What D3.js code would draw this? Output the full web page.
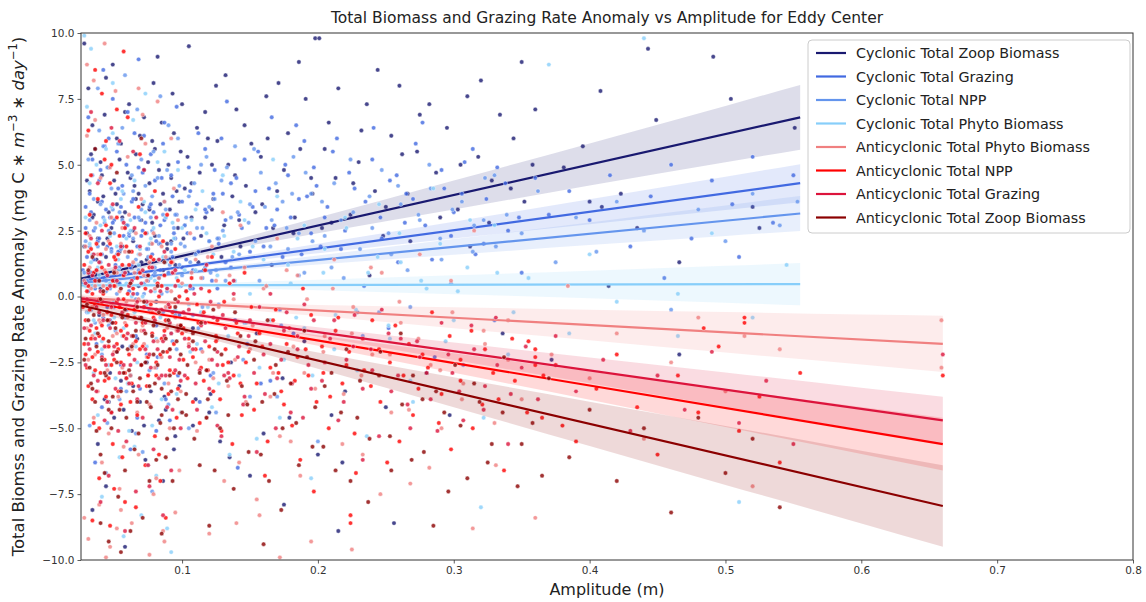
<html>
<head>
<meta charset="utf-8">
<script src="https://d3js.org/d3.v7.min.js"></script>
<title>Total Biomass and Grazing Rate Anomaly vs Amplitude</title>
<style type="text/css">
	body { margin: 0; background: #fff; }
	text { font-family: "DejaVu Sans", sans-serif; }
</style>
</head>
<body>
<div id="chart"></div>
<script>

// legend / series order
var seriesNames = [
	"Cyclonic Total Zoop Biomass", "Cyclonic Total Grazing", "Cyclonic Total NPP", "Cyclonic Total Phyto Biomass",
	"Anticyclonic Total Phyto Biomass", "Anticyclonic Total NPP", "Anticyclonic Total Grazing", "Anticyclonic Total Zoop Biomass"
];
var seriesColors = ["#191970", "#4169e1", "#6495ed", "#87cefa", "#f08080", "#ff0000", "#dc143c", "#8b0000"];

var xTicks = [0.1, 0.2, 0.3, 0.4, 0.5, 0.6, 0.7, 0.8];
var yTicks = [-10, -7.5, -5, -2.5, 0, 2.5, 5, 7.5, 10];

// regression fits
var fitXmin = 0.0256;
var fitXmax = [0.555, 0.555, 0.555, 0.555, 0.66, 0.66, 0.66, 0.66];
var fitStart = [0.68, 0.6, 0.52, 0.42, -0.05, -0.18, -0.08, -0.34];
var fitEnd = [6.8, 4.3, 3.15, 0.47, -1.8, -5.6, -4.7, -7.95];

// confidence band half widths at these x positions
var ciXcyc = [0.0256, 0.1, 0.2, 0.3, 0.4, 0.5, 0.555];
var ciXanti = [0.0256, 0.1, 0.2, 0.3, 0.4, 0.5, 0.6, 0.66];
var ciHalf = [
	[0.2, 0.12, 0.3, 0.55, 0.8, 1.07, 1.23],
	[0.12, 0.07, 0.18, 0.32, 0.47, 0.63, 0.72],
	[0.11, 0.07, 0.17, 0.3, 0.43, 0.58, 0.66],
	[0.13, 0.08, 0.2, 0.36, 0.52, 0.7, 0.8],
	[0.14, 0.09, 0.21, 0.4, 0.58, 0.77, 0.95, 1.07],
	[0.13, 0.08, 0.2, 0.37, 0.54, 0.72, 0.89, 1.0],
	[0.12, 0.07, 0.18, 0.33, 0.49, 0.65, 0.8, 0.9],
	[0.2, 0.12, 0.31, 0.57, 0.84, 1.12, 1.38, 1.55]
];

// scatter points [amplitude, anomaly]
var cycZoop = [
[0.028,9.6],[0.031,7.9],[0.033,5.4],[0.035,3.1],[0.037,1.4],[0.039,-0.7],[0.041,4.6],[0.043,6.9],[0.045,2.2],[0.047,-2.9],[0.049,8.8],[0.051,3.9],[0.053,0.5],[0.055,5.8],[0.057,-4.3],[0.059,2.7],[0.061,7.3],[0.063,1.1],[0.065,4.2],[0.067,-1.6],[0.069,6.1],[0.071,3.5],[0.073,-6.2],[0.075,5.1],[0.077,2.0],[0.079,8.1],[0.081,-0.2],[0.083,4.8],[0.085,6.6],[0.087,-3.8],[0.089,1.8],[0.091,3.3],[0.093,7.7],[0.095,-5.3],[0.097,2.6],[0.099,5.5],
[0.034,-8.1],[0.038,-5.6],[0.044,-7.2],[0.052,-2.1],[0.058,-9.5],[0.064,-3.4],[0.072,-4.9],[0.086,-7.0],[0.046,-4.0],[0.056,-1.9],
[0.102,4.1],[0.105,9.5],[0.108,-1.2],[0.111,6.4],[0.114,2.3],[0.117,7.0],[0.12,-4.4],[0.123,3.7],[0.126,5.9],[0.129,1.5],[0.132,8.4],[0.136,-2.5],[0.139,4.6],[0.142,2.9],[0.146,6.5],[0.15,-6.8],[0.154,3.2],[0.158,5.3],[0.162,7.6],[0.166,1.2],[0.17,4.0],[0.174,-3.1],[0.178,6.2],[0.182,2.4],[0.186,8.9],[0.19,-1.7],[0.195,4.5],[0.198,9.8],[0.201,9.8],
[0.205,5.6],[0.21,2.8],[0.215,7.9],[0.22,-3.6],[0.226,4.3],[0.232,6.3],[0.238,0.8],[0.244,8.6],[0.25,3.4],[0.256,-8.6],[0.262,5.4],[0.268,2.1],[0.275,6.9],[0.282,7.3],[0.29,3.0],[0.297,-4.5],[0.305,5.0],[0.312,1.9],[0.32,8.2],[0.328,4.4],[0.336,-1.4],[0.344,6.0],[0.352,3.6],[0.36,7.1],[0.372,-2.4],[0.381,4.9],
[0.395,5.7],[0.4,3.6],[0.408,7.8],[0.409,3.4],[0.423,3.9],[0.435,2.6],[0.449,6.7],[0.466,1.3],[0.466,-2.2],[0.491,9.1],[0.504,7.5],[0.52,3.4],[0.525,2.6],[0.551,6.4],[0.443,9.4],[0.414,0.4],
[0.03,2.4],[0.032,4.0],[0.034,6.5],[0.036,0.9],[0.038,3.6],[0.04,5.1],[0.042,2.0],[0.044,8.3],[0.046,3.2],[0.048,-1.0],[0.05,4.4],[0.052,6.0],[0.054,1.7],[0.056,3.0],[0.058,7.0],[0.06,4.7],[0.062,-3.0],[0.064,2.5],[0.066,5.4],[0.068,3.9],[0.07,1.3],[0.072,6.8],[0.074,-2.5],[0.076,4.3],[0.078,2.8],[0.08,5.6],[0.082,9.1],[0.084,3.5],[0.086,1.0],[0.088,-4.3],[0.09,5.0],[0.092,2.1],[0.094,6.2],[0.096,4.0],[0.098,-3.4],[0.1,7.3],
[0.101,2.2],[0.104,5.3],[0.107,3.0],[0.11,-3.9],[0.113,4.7],[0.116,1.0],[0.119,6.0],[0.122,3.3],[0.125,8.0],[0.128,-5.5],[0.131,2.7],[0.134,5.0],[0.137,3.8],[0.14,7.1],[0.143,1.9],[0.147,4.2],[0.151,5.8],[0.155,-1.4],[0.159,3.5],[0.163,6.0],[0.167,2.6],[0.171,8.1],[0.175,4.8],[0.179,-4.6],[0.183,3.0],[0.187,5.6],[0.191,7.5],[0.196,3.9],
[0.203,2.6],[0.208,6.6],[0.213,4.5],[0.218,-6.3],[0.224,3.1],[0.23,5.1],[0.236,7.3],[0.242,4.0],[0.248,2.3],[0.254,6.1],[0.26,8.0],[0.266,3.9],[0.273,5.5],[0.28,-2.9],[0.287,4.7],[0.295,6.4],[0.303,3.3],[0.31,7.6],[0.318,5.3],[0.326,2.8],[0.334,6.9],[0.342,4.1],[0.35,8.9],[0.358,5.0],
[0.043,-3.9],[0.05,-4.6],[0.055,-3.2],[0.063,-5.1],[0.069,-4.0],[0.077,-3.6],[0.083,-4.7],[0.094,-5.8],[0.108,-4.9],[0.121,-3.7],[0.135,-6.1],[0.16,-5.2],[0.175,-7.9],[0.2,-6.0],[0.21,-4.5],[0.25,-4.2],[0.215,-8.9],
[0.028,1.9],[0.03,4.4],[0.032,0.8],[0.034,3.0],[0.036,5.6],[0.038,2.2],[0.04,0.3],[0.042,3.8],[0.044,1.5],[0.046,4.9],[0.048,2.6],[0.05,0.6],[0.052,3.5],[0.054,5.2],[0.056,1.9],[0.058,3.2],[0.06,0.9],[0.062,4.5],[0.064,2.1],[0.066,3.7],[0.068,0.4],[0.07,2.9],[0.072,4.8],[0.074,1.4],[0.076,3.3],[0.078,5.9],[0.08,2.3],[0.083,0.7],[0.086,3.9],[0.089,2.0],[0.092,4.5],[0.095,1.2],[0.098,3.6],[0.102,2.7],[0.107,4.3],[0.112,1.3],[0.117,3.0],[0.122,5.0]
];
var cycGrazing = [
[0.029,3.4],[0.031,6.8],[0.033,0.9],[0.035,2.5],[0.037,-1.8],[0.039,4.4],[0.041,1.6],[0.043,5.7],[0.045,-0.4],[0.047,3.0],[0.049,7.5],[0.051,1.2],[0.053,4.1],[0.055,-2.6],[0.057,2.3],[0.059,5.0],[0.061,0.2],[0.063,3.6],[0.065,6.2],[0.067,1.9],[0.069,-3.5],[0.071,4.7],[0.073,2.8],[0.075,0.6],[0.077,5.4],[0.079,3.2],[0.081,-1.1],[0.083,2.0],[0.085,4.5],[0.087,6.6],[0.089,1.4],[0.091,-4.7],[0.093,3.8],[0.095,2.2],[0.097,5.1],[0.099,0.4],
[0.036,-6.3],[0.048,-4.4],[0.062,-5.8],[0.074,-2.2],[0.088,-3.9],[0.042,8.6],[0.068,9.0],
[0.102,2.7],[0.105,4.9],[0.108,1.0],[0.111,3.5],[0.114,-2.0],[0.117,5.6],[0.12,2.1],[0.123,3.9],[0.126,0.3],[0.129,6.0],[0.132,2.9],[0.136,4.3],[0.139,-0.9],[0.142,3.1],[0.146,5.2],[0.15,1.7],[0.154,4.0],[0.158,-3.3],[0.162,2.6],[0.166,6.8],[0.17,3.3],[0.174,1.5],[0.178,4.6],[0.182,-1.4],[0.186,3.7],[0.19,5.9],[0.195,2.4],[0.199,4.2],
[0.205,3.0],[0.211,5.5],[0.217,1.8],[0.223,4.7],[0.229,-0.6],[0.235,3.6],[0.241,6.4],[0.247,2.2],[0.253,4.4],[0.259,1.3],[0.265,3.9],[0.272,5.8],[0.279,2.7],[0.286,-2.3],[0.293,4.1],[0.3,3.2],[0.308,5.1],[0.316,1.6],[0.324,3.7],[0.332,4.9],[0.34,2.5],[0.35,0.9],[0.36,4.5],[0.37,3.1],
[0.385,4.0],[0.4,2.9],[0.415,4.6],[0.43,1.9],[0.445,3.8],[0.46,5.0],[0.475,2.2],[0.49,4.4],[0.505,3.5],[0.52,5.3],[0.535,2.8],[0.55,4.6],[0.455,0.7],[0.51,1.5],
[0.03,1.5],[0.032,3.9],[0.034,5.2],[0.036,0.3],[0.038,2.1],[0.04,4.8],[0.042,-0.8],[0.044,3.3],[0.046,6.0],[0.048,1.8],[0.05,2.9],[0.052,5.5],[0.054,0.5],[0.056,4.2],[0.058,2.6],[0.06,7.0],[0.062,1.1],[0.064,3.7],[0.066,-1.5],[0.068,4.9],[0.07,2.3],[0.072,6.1],[0.074,0.8],[0.076,3.4],[0.078,1.6],[0.08,4.4],[0.082,-2.3],[0.084,2.7],[0.086,5.8],[0.088,3.0],[0.09,0.9],[0.092,4.6],[0.094,2.4],[0.096,7.2],[0.098,-0.7],[0.1,3.6],
[0.103,1.4],[0.106,4.0],[0.109,2.2],[0.112,6.2],[0.115,0.7],[0.118,3.2],[0.121,-3.0],[0.124,4.8],[0.127,2.0],[0.13,3.9],[0.133,7.4],[0.136,1.1],[0.14,4.5],[0.144,2.6],[0.148,-1.8],[0.152,3.4],[0.156,5.5],[0.16,1.9],[0.164,4.1],[0.168,2.7],[0.172,-0.5],[0.176,5.0],[0.18,3.0],[0.184,6.5],[0.188,1.6],[0.192,3.8],[0.197,4.9],
[0.202,1.9],[0.207,3.4],[0.214,6.0],[0.22,2.5],[0.227,4.1],[0.234,0.4],[0.24,5.2],[0.246,3.0],[0.252,-1.2],[0.258,4.6],[0.264,2.8],[0.27,3.7],[0.277,6.6],[0.284,1.4],[0.291,4.8],[0.298,2.3],[0.306,3.9],[0.314,5.6],[0.322,2.0],[0.33,-0.9],[0.338,4.3],[0.348,3.0],
[0.041,-4.2],[0.055,-3.5],[0.067,-4.6],[0.081,-5.1],[0.097,-3.0],[0.113,-4.0],[0.141,-6.5],[0.165,-3.2],
[0.027,1.0],[0.029,2.6],[0.031,0.2],[0.033,3.2],[0.035,1.4],[0.037,-0.3],[0.039,2.2],[0.041,3.6],[0.043,0.7],[0.045,1.9],[0.047,-0.9],[0.049,2.8],[0.051,0.4],[0.053,1.7],[0.055,3.4],[0.057,0.9],[0.059,-0.5],[0.061,2.3],[0.063,1.2],[0.065,3.0],[0.067,0.1],[0.069,1.6],[0.071,2.5],[0.073,-0.2],[0.075,1.8],[0.077,3.5],[0.079,0.8],[0.081,2.1],[0.084,1.0],[0.087,2.9],[0.09,-0.4],[0.093,1.5],[0.096,3.1],[0.1,1.1],[0.104,2.4],[0.108,0.3],[0.112,1.7],[0.117,3.3],[0.122,0.6],[0.127,2.2],[0.132,1.3]
];
var cycNPP = [
[0.029,2.1],[0.031,5.2],[0.033,-0.5],[0.035,3.7],[0.037,1.0],[0.039,6.3],[0.041,-2.2],[0.043,2.8],[0.045,4.9],[0.047,0.3],[0.049,3.3],[0.051,-1.3],[0.053,5.8],[0.055,1.8],[0.057,3.9],[0.059,-3.1],[0.061,2.4],[0.063,4.6],[0.065,0.7],[0.067,7.1],[0.069,2.9],[0.071,-0.9],[0.073,4.2],[0.075,1.5],[0.077,3.0],[0.079,5.5],[0.081,-2.7],[0.083,2.3],[0.085,0.1],[0.087,3.6],[0.089,4.8],[0.091,1.2],[0.093,-1.7],[0.095,3.1],[0.097,6.0],[0.099,2.0],
[0.032,-4.9],[0.044,-6.7],[0.054,-3.9],[0.066,-5.2],[0.078,-7.4],[0.09,-4.1],[0.038,7.9],[0.058,8.4],[0.084,7.6],
[0.102,1.9],[0.105,3.8],[0.108,-0.7],[0.111,2.6],[0.114,5.0],[0.117,1.1],[0.12,3.4],[0.123,-2.9],[0.126,2.2],[0.129,4.4],[0.132,0.6],[0.136,3.0],[0.139,5.7],[0.142,1.6],[0.146,-1.0],[0.15,3.5],[0.154,2.1],[0.158,4.7],[0.162,0.4],[0.166,2.9],[0.17,-3.8],[0.174,3.6],[0.178,1.8],[0.182,5.3],[0.186,2.4],[0.19,0.9],[0.195,3.9],
[0.205,2.3],[0.212,4.3],[0.219,0.7],[0.226,3.2],[0.233,-1.5],[0.24,2.6],[0.247,4.8],[0.254,1.6],[0.261,3.5],[0.268,-0.4],[0.275,2.9],[0.283,4.1],[0.291,1.4],[0.299,3.3],[0.307,-2.6],[0.315,2.7],[0.323,4.5],[0.331,1.9],[0.339,3.1],[0.35,2.4],[0.362,4.0],[0.375,1.3],
[0.39,3.0],[0.405,1.7],[0.42,3.6],[0.44,2.5],[0.46,-0.5],[0.48,3.3],[0.5,2.1],[0.52,3.9],[0.54,2.7],[0.553,3.6],
[0.03,0.6],[0.032,2.9],[0.034,4.6],[0.036,-1.0],[0.038,1.9],[0.04,3.5],[0.042,5.7],[0.044,0.2],[0.046,2.5],[0.048,4.1],[0.05,-0.4],[0.052,1.6],[0.054,3.2],[0.056,6.4],[0.058,0.9],[0.06,2.7],[0.062,-1.9],[0.064,4.0],[0.066,1.4],[0.068,3.0],[0.07,5.2],[0.072,0.1],[0.074,2.4],[0.076,-2.8],[0.078,3.8],[0.08,1.1],[0.082,4.5],[0.084,2.0],[0.086,-0.6],[0.088,3.3],[0.09,6.5],[0.092,1.7],[0.094,2.6],[0.096,-2.0],[0.098,4.2],[0.1,0.8],
[0.103,3.0],[0.106,1.3],[0.109,4.3],[0.112,-1.2],[0.115,2.6],[0.118,5.3],[0.121,0.9],[0.124,3.7],[0.127,-0.3],[0.13,2.5],[0.133,4.9],[0.137,1.5],[0.141,3.2],[0.145,-2.4],[0.149,2.8],[0.153,5.6],[0.157,0.6],[0.161,3.4],[0.165,1.9],[0.169,4.3],[0.173,-1.1],[0.177,2.6],[0.181,3.9],[0.186,0.8],[0.191,4.7],[0.196,2.1],
[0.203,3.6],[0.21,1.1],[0.217,2.9],[0.224,5.2],[0.231,1.8],[0.238,3.8],[0.245,-0.6],[0.252,2.4],[0.259,4.2],[0.266,1.0],[0.274,3.1],[0.282,5.0],[0.29,2.2],[0.298,0.5],[0.306,3.6],[0.314,1.7],[0.322,2.9],[0.33,4.6],
[0.045,-4.8],[0.059,-3.6],[0.071,-5.9],[0.087,-3.3],[0.105,-5.0],[0.125,-4.4],[0.15,-3.8],[0.2,-5.5],
[0.028,0.9],[0.03,-0.6],[0.032,1.9],[0.034,0.4],[0.036,2.6],[0.038,-0.2],[0.04,1.3],[0.042,3.0],[0.044,0.6],[0.046,-1.1],[0.048,1.7],[0.05,2.4],[0.052,0.1],[0.054,1.1],[0.056,2.9],[0.058,-0.8],[0.06,1.5],[0.062,0.4],[0.064,2.2],[0.066,-0.1],[0.068,1.0],[0.07,3.3],[0.072,0.5],[0.074,1.8],[0.076,-0.5],[0.078,2.5],[0.08,0.9],[0.083,1.4],[0.086,3.1],[0.089,0.2],[0.092,2.0],[0.095,-0.7],[0.098,1.2],[0.102,2.7],[0.106,0.3],[0.11,1.6],[0.115,-0.4],[0.12,2.1],[0.125,1.0]
];
var cycPhyto = [
[0.028,9.9],[0.03,7.2],[0.032,4.3],[0.034,1.6],[0.036,-1.4],[0.038,-4.5],[0.04,2.7],[0.042,0.2],[0.044,5.6],[0.046,-2.6],[0.048,3.4],[0.05,-0.8],[0.052,1.9],[0.054,-6.1],[0.056,4.0],[0.058,0.9],[0.06,-3.3],[0.062,2.5],[0.064,6.7],[0.066,-1.9],[0.068,1.2],[0.07,-8.3],[0.072,3.6],[0.074,-0.3],[0.076,2.0],[0.078,-4.9],[0.08,0.6],[0.082,5.1],[0.084,-2.3],[0.086,1.5],[0.088,3.0],[0.09,-1.1],[0.092,-9.7],[0.094,2.2],[0.096,-3.7],[0.098,0.4],
[0.033,9.4],[0.041,-7.6],[0.049,8.1],[0.057,-9.1],[0.065,-5.7],[0.073,7.7],[0.081,-6.8],[0.089,-8.8],
[0.102,1.0],[0.106,-2.1],[0.11,3.3],[0.114,-0.6],[0.118,2.4],[0.122,-4.2],[0.126,0.8],[0.13,4.6],[0.134,-1.5],[0.138,1.7],[0.142,-3.0],[0.146,2.9],[0.15,0.1],[0.155,-5.4],[0.16,1.4],[0.165,-0.9],[0.17,3.8],[0.175,-2.4],[0.18,0.5],[0.185,2.2],[0.19,-1.2],[0.195,-6.9],
[0.205,1.8],[0.213,-0.7],[0.221,2.6],[0.229,-2.8],[0.237,0.9],[0.245,3.5],[0.253,-1.6],[0.261,1.3],[0.27,-4.0],[0.28,0.3],[0.29,2.0],[0.3,-0.9],[0.31,1.1],[0.32,-8.0],[0.33,2.7],[0.34,-2.2],[0.355,0.7],[0.37,8.8],[0.385,-1.4],[0.4,1.6],[0.42,-0.2],[0.44,9.8],[0.465,0.1],[0.465,-1.5],[0.49,2.4],[0.52,-0.8],[0.545,1.2],[0.51,-7.8],
[0.029,3.0],[0.031,-0.6],[0.033,1.3],[0.035,-2.9],[0.037,5.0],[0.039,0.8],[0.041,-1.7],[0.043,2.9],[0.045,-4.0],[0.047,0.5],[0.049,6.2],[0.051,-3.1],[0.053,1.0],[0.055,3.7],[0.057,-1.2],[0.059,2.2],[0.061,-5.1],[0.063,0.0],[0.065,4.4],[0.067,-2.5],[0.069,1.8],[0.071,-0.9],[0.073,3.2],[0.075,-6.4],[0.077,0.7],[0.079,2.6],[0.081,-1.6],[0.083,1.4],[0.085,-3.9],[0.087,5.5],[0.089,0.3],[0.091,-2.0],[0.093,2.8],[0.095,-0.5],[0.097,4.8],[0.099,-4.4],
[0.103,0.2],[0.107,2.9],[0.111,-1.8],[0.115,4.0],[0.119,-0.4],[0.123,1.6],[0.127,-3.3],[0.131,2.3],[0.135,-6.0],[0.139,0.6],[0.143,3.6],[0.147,-1.0],[0.152,1.9],[0.157,-2.7],[0.162,0.4],[0.167,5.2],[0.172,-4.6],[0.178,1.2],[0.184,-0.8],[0.19,2.7],[0.196,-3.0],
[0.204,0.9],[0.212,-2.0],[0.22,3.0],[0.228,-0.5],[0.236,-5.3],[0.244,1.5],[0.252,-1.1],[0.26,2.4],[0.268,-3.2],[0.276,0.6],[0.285,4.1],[0.294,-1.7],[0.303,0.2],[0.312,2.9],[0.322,-4.6],[0.332,0.9],[0.344,-0.6],
[0.029,0.4],[0.032,2.0],[0.035,-0.9],[0.038,1.1],[0.041,-2.0],[0.044,0.9],[0.047,2.3],[0.05,-0.2],[0.053,1.4],[0.056,-1.5],[0.059,0.5],[0.062,2.9],[0.065,-0.6],[0.068,1.6],[0.071,0.0],[0.074,-1.9],[0.077,2.2],[0.08,0.2],[0.084,-0.8],[0.088,1.3],[0.092,-1.4],[0.096,0.7],[0.1,2.6],[0.105,-0.3],[0.11,1.0]
];
var antiPhyto = [
[0.028,-8.4],[0.03,6.1],[0.032,2.3],[0.034,-1.5],[0.036,0.4],[0.038,-3.6],[0.04,4.5],[0.042,-0.7],[0.044,1.8],[0.046,-5.2],[0.048,3.0],[0.05,-2.1],[0.052,0.9],[0.054,-7.3],[0.056,2.6],[0.058,-1.0],[0.06,5.3],[0.062,-3.0],[0.064,1.3],[0.066,-0.3],[0.068,-6.0],[0.07,3.7],[0.072,-1.8],[0.074,0.6],[0.076,-4.1],[0.078,2.0],[0.08,-2.7],[0.082,7.4],[0.084,-0.5],[0.086,-8.9],[0.088,1.5],[0.09,-3.3],[0.092,0.2],[0.094,4.1],[0.096,-1.3],[0.098,-6.6],
[0.031,-9.2],[0.035,8.2],[0.039,-7.9],[0.043,9.6],[0.047,-9.5],[0.051,7.8],[0.055,-8.1],[0.063,-8.6],[0.071,6.9],[0.079,-7.5],[0.087,-9.3],[0.095,-8.2],
[0.102,-0.8],[0.106,2.4],[0.11,-2.5],[0.114,0.7],[0.118,-4.6],[0.122,1.9],[0.126,-1.6],[0.13,3.2],[0.134,-3.4],[0.138,-0.1],[0.142,-6.3],[0.146,1.1],[0.15,-2.0],[0.155,-7.7],[0.16,0.3],[0.165,-3.8],[0.17,2.2],[0.175,-1.2],[0.18,-5.5],[0.185,0.8],[0.19,-2.9],[0.195,-9.3],
[0.205,-1.5],[0.212,1.4],[0.219,-3.7],[0.225,-9.6],[0.226,-0.4],[0.233,-6.0],[0.24,-2.2],[0.247,0.9],[0.254,-4.4],[0.261,-1.0],[0.268,-7.1],[0.275,1.6],[0.283,-2.6],[0.291,-5.0],[0.299,-0.6],[0.307,-3.3],[0.315,2.5],[0.323,-1.8],[0.331,-6.4],[0.34,-0.9],[0.35,-3.9],[0.36,-8.4],[0.372,-2.2],[0.384,0.4],
[0.4,-3.1],[0.42,-1.4],[0.44,-5.4],[0.46,-2.5],[0.48,-0.8],[0.5,-3.6],[0.52,-7.2],[0.54,-2.0],[0.514,-1.5],[0.659,-0.9],[0.659,-2.7],
[0.029,1.9],[0.031,-2.4],[0.033,0.3],[0.035,-4.6],[0.037,2.8],[0.039,-0.9],[0.041,-6.3],[0.043,1.0],[0.045,-2.8],[0.047,4.9],[0.049,-1.5],[0.051,0.4],[0.053,-3.8],[0.055,2.0],[0.057,-5.7],[0.059,-0.2],[0.061,3.1],[0.063,-2.0],[0.065,0.9],[0.067,-4.4],[0.069,1.6],[0.071,-1.1],[0.073,5.8],[0.075,-3.0],[0.077,-0.6],[0.079,2.4],[0.081,-6.9],[0.083,0.7],[0.085,-2.3],[0.087,3.6],[0.089,-1.2],[0.091,-5.0],[0.093,1.3],[0.095,-0.8],[0.097,2.9],[0.099,-3.6],
[0.103,-1.3],[0.107,0.9],[0.111,-5.1],[0.115,-2.1],[0.119,1.5],[0.123,-3.1],[0.127,-0.4],[0.131,-7.0],[0.135,0.8],[0.139,-2.4],[0.143,2.7],[0.147,-4.0],[0.152,-1.1],[0.157,-8.3],[0.162,0.4],[0.167,-2.9],[0.172,-5.3],[0.177,1.0],[0.182,-1.9],[0.187,-6.8],[0.192,-0.1],[0.198,-3.5],
[0.204,-2.1],[0.211,0.3],[0.218,-5.6],[0.225,-1.4],[0.232,-3.0],[0.239,1.1],[0.246,-7.5],[0.253,-2.2],[0.26,-0.2],[0.267,-4.3],[0.274,-1.6],[0.282,-6.5],[0.29,-2.8],[0.298,0.6],[0.306,-3.9],[0.314,-8.8],[0.322,-1.3],[0.33,-4.8],[0.34,-2.4],
[0.036,6.7],[0.052,-8.8],[0.068,7.9],[0.076,-9.8],[0.092,6.0],[0.12,-9.0],[0.14,-8.6],[0.172,-9.9],[0.03,8.8],[0.044,-9.9],
[0.028,0.6],[0.03,-1.2],[0.032,1.1],[0.034,-0.4],[0.036,-2.2],[0.038,1.6],[0.04,-1.0],[0.042,0.4],[0.044,-1.9],[0.046,2.1],[0.048,-0.3],[0.05,1.0],[0.052,-1.4],[0.054,0.2],[0.056,-2.7],[0.058,1.7],[0.06,-0.8],[0.062,0.5],[0.064,-1.8],[0.066,2.4],[0.068,-0.1],[0.07,-1.3],[0.072,0.8],[0.074,-2.3],[0.076,1.3],[0.078,-0.6],[0.08,0.3],[0.082,-1.7],[0.085,1.9],[0.088,-0.4],[0.091,-2.0],[0.094,0.9],[0.097,-1.1],[0.1,0.5],[0.105,-1.8],[0.11,1.4],[0.115,-0.7],[0.12,-2.4],[0.125,0.6]
];
var antiNPP = [
[0.028,1.2],[0.029,-0.9],[0.03,-2.7],[0.031,0.4],[0.032,3.1],[0.033,-1.6],[0.034,-3.9],[0.035,0.9],[0.036,-0.3],[0.037,2.0],[0.038,-2.1],[0.039,-5.0],[0.04,1.6],[0.041,-1.1],[0.042,0.1],[0.043,-3.2],[0.044,2.7],[0.045,-0.6],[0.046,-1.9],[0.047,4.3],[0.048,-4.4],[0.049,0.6],[0.05,-2.4],[0.051,1.4],[0.052,-0.2],[0.053,-3.6],[0.054,2.3],[0.055,-1.3],[0.056,-6.1],[0.057,0.8],[0.058,-2.9],[0.059,1.9],[0.06,-0.7],[0.062,-4.0],[0.064,0.3],[0.066,-1.7],[0.068,3.4],[0.07,-2.6],[0.072,-0.4],[0.074,-3.4],[0.076,1.1],[0.078,-1.4],[0.08,-5.3],[0.082,0.5],[0.084,-2.2],[0.086,2.1],[0.088,-0.9],[0.09,-3.7],[0.092,1.3],[0.094,-1.8],[0.096,-4.6],[0.098,0.0],
[0.031,6.3],[0.036,8.6],[0.044,5.9],[0.052,7.1],[0.06,6.8],[0.034,-8.5],[0.05,-7.3],[0.066,-8.0],[0.084,-7.0],
[0.101,-1.2],[0.104,-3.1],[0.107,0.7],[0.11,-2.0],[0.113,-4.8],[0.116,-0.6],[0.119,-2.8],[0.122,1.5],[0.125,-1.5],[0.128,-3.9],[0.131,-0.2],[0.134,-2.5],[0.137,-5.6],[0.14,-1.0],[0.143,-3.3],[0.146,0.9],[0.149,-2.1],[0.153,-4.3],[0.157,-1.4],[0.161,-6.8],[0.165,-2.7],[0.169,-0.5],[0.173,-3.6],[0.177,-1.8],[0.181,-4.9],[0.185,-2.3],[0.189,0.3],[0.193,-3.0],[0.197,-7.4],
[0.203,-1.9],[0.209,-3.8],[0.215,-0.8],[0.221,-2.6],[0.224,-8.3],[0.224,-8.6],[0.227,-5.2],[0.233,-1.6],[0.239,-3.4],[0.245,-2.0],[0.251,-6.3],[0.257,-1.1],[0.263,-3.0],[0.27,-4.5],[0.277,-2.2],[0.284,-0.6],[0.291,-3.7],[0.298,-5.8],[0.305,-2.4],[0.313,-1.3],[0.321,-4.1],[0.329,-2.9],[0.337,-6.6],[0.345,-3.2],[0.355,-1.7],[0.365,-4.6],[0.375,-2.6],
[0.39,-5.5],[0.405,-3.5],[0.42,-2.2],[0.435,-4.2],[0.45,-6.0],[0.465,-3.0],[0.48,-4.4],[0.495,-1.9],[0.51,-5.1],[0.525,-3.8],[0.54,-6.3],[0.555,-2.9],[0.66,-3.0],[0.514,-0.8],[0.514,-1.0],[0.484,-1.2],
[0.028,-1.8],[0.029,2.4],[0.03,0.2],[0.031,-3.4],[0.032,-0.5],[0.033,1.8],[0.034,-2.3],[0.035,-4.8],[0.036,0.6],[0.037,-1.2],[0.038,3.7],[0.039,-0.1],[0.04,-2.9],[0.041,1.1],[0.042,-1.6],[0.043,5.2],[0.044,-3.8],[0.045,0.3],[0.046,-0.9],[0.047,2.0],[0.048,-2.6],[0.049,-5.6],[0.05,1.5],[0.051,-1.0],[0.052,3.0],[0.053,-2.0],[0.054,-0.4],[0.055,-4.1],[0.056,1.2],[0.057,-1.5],[0.058,2.6],[0.059,-3.1],[0.06,0.1],[0.061,-2.2],[0.063,1.7],[0.065,-0.8],[0.067,-4.5],[0.069,0.9],[0.071,-1.9],[0.073,2.4],[0.075,-3.0],[0.077,-0.3],[0.079,1.4],[0.081,-2.5],[0.083,-6.0],[0.085,0.4],[0.087,-1.3],[0.089,3.1],[0.091,-2.8],[0.093,-0.6],[0.095,1.8],[0.097,-3.5],[0.099,-1.1],
[0.033,4.6],[0.041,7.7],[0.048,5.0],[0.057,9.3],[0.069,5.4],[0.08,4.0],[0.039,-6.9],[0.047,-8.7],[0.058,-7.8],[0.073,-6.4],[0.088,-8.4],
[0.101,-2.4],[0.103,0.2],[0.105,-1.6],[0.108,-4.0],[0.111,-0.3],[0.114,-2.7],[0.117,1.0],[0.12,-1.9],[0.123,-3.6],[0.126,-0.9],[0.129,-5.1],[0.132,-2.0],[0.135,0.5],[0.138,-3.0],[0.141,-1.4],[0.144,-4.5],[0.147,-2.5],[0.151,-0.4],[0.155,-3.3],[0.159,-1.9],[0.163,-5.5],[0.167,-0.9],[0.171,-2.9],[0.175,-4.1],[0.179,-1.2],[0.183,-3.2],[0.187,-6.2],[0.191,-2.0],[0.195,-0.7],[0.199,-4.0],
[0.204,-2.9],[0.208,-5.0],[0.213,-1.3],[0.218,-3.3],[0.223,-2.1],[0.228,-6.7],[0.234,-2.8],[0.24,-0.9],[0.246,-4.0],[0.253,-2.5],[0.26,-5.5],[0.267,-1.8],[0.274,-3.5],[0.281,-2.7],[0.289,-4.8],[0.297,-1.5],[0.305,-3.2],[0.314,-5.0],[0.323,-2.0],[0.333,-3.9],[0.343,-1.6],[0.354,-4.4],[0.366,-3.0],[0.38,-4.9],[0.36,-2.0],[0.36,-2.3],[0.36,-2.6],
[0.027,-0.4],[0.029,-2.2],[0.031,1.7],[0.032,-1.3],[0.034,0.1],[0.036,-2.8],[0.037,1.0],[0.039,-1.5],[0.041,-0.2],[0.043,-2.4],[0.044,0.9],[0.046,-3.1],[0.048,-0.7],[0.05,0.4],[0.052,-1.8],[0.053,1.6],[0.055,-2.5],[0.057,-0.1],[0.059,-1.1],[0.061,1.2],[0.063,-3.3],[0.065,-0.5],[0.067,0.7],[0.069,-2.0],[0.071,-1.0],[0.073,0.3],[0.075,-2.3],[0.077,1.5],[0.079,-0.8],[0.081,-3.0],[0.083,0.0],[0.085,-1.6],[0.087,0.8],[0.089,-2.1],[0.091,-0.4],[0.094,-2.9],[0.097,0.6],[0.1,-1.4],[0.104,-0.1],[0.108,-2.3],[0.112,-1.0],[0.116,-3.2],[0.12,0.2],[0.125,-1.7],[0.13,-2.6]
];
var antiGrazing = [
[0.029,0.5],[0.031,-1.8],[0.033,2.2],[0.035,-3.0],[0.037,-0.4],[0.039,1.3],[0.041,-2.3],[0.043,-4.7],[0.045,0.8],[0.047,-1.2],[0.049,3.5],[0.051,-3.5],[0.053,-0.1],[0.055,1.9],[0.057,-2.6],[0.059,-5.5],[0.061,0.4],[0.063,-1.5],[0.065,2.6],[0.067,-3.9],[0.069,-0.8],[0.071,1.0],[0.073,-2.0],[0.075,-6.4],[0.077,0.2],[0.079,-1.7],[0.081,3.0],[0.083,-3.1],[0.085,-0.5],[0.087,1.7],[0.089,-4.2],[0.091,-1.0],[0.093,0.9],[0.095,-2.8],[0.097,-0.2],[0.099,-5.0],
[0.033,7.0],[0.048,6.4],[0.064,5.5],[0.04,-7.8],[0.058,-8.9],[0.076,-7.2],[0.092,-6.6],
[0.102,-1.6],[0.106,0.4],[0.11,-3.3],[0.114,-1.1],[0.118,1.2],[0.122,-2.4],[0.126,-4.9],[0.13,-0.7],[0.134,-2.9],[0.138,0.6],[0.142,-1.9],[0.146,-3.8],[0.15,-0.9],[0.155,-5.9],[0.16,-2.2],[0.165,0.1],[0.17,-3.1],[0.175,-1.3],[0.18,-4.4],[0.185,-2.0],[0.19,-0.3],[0.195,-3.5],
[0.205,-2.5],[0.212,-0.9],[0.219,-4.0],[0.226,-1.9],[0.233,-6.2],[0.24,-2.8],[0.247,-0.5],[0.254,-3.6],[0.261,-1.6],[0.268,-5.0],[0.275,-2.3],[0.283,-3.9],[0.291,-1.0],[0.299,-2.9],[0.307,-4.7],[0.315,-2.0],[0.323,-3.4],[0.331,-0.8],[0.34,-5.6],[0.35,-2.7],[0.362,-3.9],[0.375,-1.5],
[0.39,-3.6],[0.41,-2.4],[0.43,-5.1],[0.45,-3.0],[0.47,-4.3],[0.49,-2.1],[0.51,-4.8],[0.53,-3.2],[0.55,-5.6],[0.66,-2.2],
[0.029,-2.6],[0.031,0.9],[0.033,-1.1],[0.035,1.6],[0.037,-3.6],[0.039,-0.6],[0.041,2.5],[0.043,-1.9],[0.045,-4.0],[0.047,0.4],[0.049,-2.2],[0.051,1.1],[0.053,-5.1],[0.055,-0.7],[0.057,2.8],[0.059,-1.6],[0.061,-3.3],[0.063,0.6],[0.065,-2.4],[0.067,-0.2],[0.069,1.9],[0.071,-4.6],[0.073,-1.0],[0.075,0.8],[0.077,-2.7],[0.079,-5.8],[0.081,-0.5],[0.083,1.4],[0.085,-3.0],[0.087,-1.5],[0.089,0.3],[0.091,-2.3],[0.093,-4.3],[0.095,1.0],[0.097,-1.3],[0.099,-3.2],
[0.038,4.3],[0.054,5.9],[0.072,4.8],[0.046,-6.8],[0.066,-7.4],[0.086,-8.3],
[0.102,-3.0],[0.105,-0.5],[0.108,-2.0],[0.111,-4.3],[0.114,0.3],[0.117,-1.7],[0.12,-3.5],[0.123,-0.8],[0.126,-2.6],[0.129,-5.3],[0.132,-1.2],[0.135,-3.1],[0.138,0.1],[0.141,-2.3],[0.145,-4.1],[0.149,-1.5],[0.153,-2.9],[0.157,-0.4],[0.161,-3.7],[0.165,-1.8],[0.169,-5.0],[0.173,-2.4],[0.177,-0.6],[0.181,-3.3],[0.185,-1.5],[0.189,-4.6],[0.193,-2.6],[0.197,-0.9],
[0.203,-3.2],[0.209,-1.6],[0.215,-4.7],[0.221,-2.4],[0.227,-0.7],[0.233,-3.5],[0.239,-2.0],[0.245,-5.3],[0.252,-1.4],[0.259,-3.0],[0.266,-4.1],[0.273,-1.7],[0.28,-2.9],[0.288,-5.1],[0.296,-2.2],[0.304,-3.6],[0.313,-1.1],[0.322,-4.3],[0.332,-2.6],[0.342,-3.7],[0.353,-1.9],
[0.028,-1.2],[0.03,-0.1],[0.032,-2.0],[0.034,0.8],[0.036,-1.6],[0.038,-3.2],[0.04,0.2],[0.042,-0.9],[0.044,-2.6],[0.046,1.2],[0.048,-0.4],[0.05,-1.9],[0.052,0.6],[0.054,-2.9],[0.056,-0.6],[0.058,0.9],[0.06,-1.4],[0.062,-2.6],[0.064,0.1],[0.066,-1.0],[0.068,-3.4],[0.07,0.5],[0.072,-1.3],[0.074,-0.2],[0.076,-2.2],[0.078,1.1],[0.08,-0.9],[0.082,-2.0],[0.084,0.2],[0.086,-1.7],[0.088,-3.0],[0.09,-0.3],[0.092,-1.4],[0.095,0.4],[0.098,-2.4],[0.101,-0.6],[0.105,-1.9],[0.109,0.1],[0.113,-2.8],[0.117,-1.0],[0.121,-0.2],[0.126,-2.1],[0.131,-3.0]
];
var antiZoop = [
[0.029,-1.6],[0.031,1.0],[0.033,-3.3],[0.035,-0.7],[0.037,-5.1],[0.039,0.6],[0.041,-2.4],[0.043,-6.7],[0.045,-0.9],[0.047,2.4],[0.049,-3.8],[0.051,-1.2],[0.053,-7.6],[0.055,0.3],[0.057,-2.9],[0.059,-4.6],[0.061,1.7],[0.063,-1.9],[0.065,-5.8],[0.067,-0.4],[0.069,-3.1],[0.071,-8.4],[0.073,-1.4],[0.075,0.8],[0.077,-4.2],[0.079,-2.2],[0.081,-6.2],[0.083,-0.6],[0.085,-3.5],[0.087,1.3],[0.089,-5.4],[0.091,-2.0],[0.093,-7.0],[0.095,-0.1],[0.097,-3.9],[0.099,-1.1],
[0.036,5.6],[0.052,4.7],[0.07,6.0],[0.046,-9.3],[0.062,-8.9],
[0.103,-4.5],[0.108,-1.7],[0.113,-6.4],[0.118,-2.8],[0.123,-0.5],[0.128,-5.0],[0.133,-3.2],[0.138,-7.3],[0.143,-1.5],[0.148,-4.1],[0.153,-2.4],[0.158,-6.0],[0.163,-0.9],[0.168,-3.7],[0.173,-8.1],[0.178,-2.1],[0.184,-4.8],[0.19,-1.3],[0.196,-5.7],
[0.205,-3.4],[0.213,-6.6],[0.221,-2.0],[0.229,-4.6],[0.237,-7.8],[0.245,-3.0],[0.253,-5.3],[0.261,-1.4],[0.269,-6.2],[0.277,-3.9],[0.285,-8.7],[0.293,-4.4],[0.301,-2.6],[0.31,-6.9],[0.319,-4.0],[0.328,-5.6],[0.337,-2.3],[0.347,-7.2],[0.358,-4.8],[0.37,-3.1],
[0.385,-6.1],[0.4,-4.3],[0.42,-7.0],[0.44,-5.0],[0.46,-8.2],[0.48,-4.6],[0.5,-6.7],[0.52,-5.4],[0.54,-8.0],
[0.03,-0.3],[0.032,-2.7],[0.034,1.5],[0.036,-4.0],[0.038,-1.4],[0.04,-6.0],[0.042,0.2],[0.044,-3.0],[0.046,-1.7],[0.048,-5.0],[0.05,0.9],[0.052,-2.5],[0.054,-4.3],[0.056,-0.8],[0.058,-6.6],[0.06,-2.0],[0.062,0.5],[0.064,-3.6],[0.066,-1.3],[0.068,-5.2],[0.07,-2.6],[0.072,-0.2],[0.074,-4.0],[0.076,-7.0],[0.078,-1.5],[0.08,-3.3],[0.082,0.4],[0.084,-4.8],[0.086,-2.1],[0.088,-6.1],[0.09,-0.9],[0.092,-3.6],[0.094,-5.0],[0.096,-1.7],[0.098,-2.9],[0.1,-4.4],
[0.104,-2.6],[0.109,-5.4],[0.114,-1.0],[0.119,-3.9],[0.124,-6.6],[0.129,-2.2],[0.134,-4.5],[0.139,-0.6],[0.144,-3.4],[0.149,-5.9],[0.154,-1.7],[0.159,-4.0],[0.164,-7.0],[0.169,-2.6],[0.174,-5.0],[0.18,-3.3],[0.186,-6.4],[0.192,-2.3],[0.198,-4.2],
[0.204,-5.7],[0.21,-2.9],[0.217,-4.4],[0.224,-7.0],[0.231,-3.2],[0.238,-5.4],[0.246,-2.1],[0.254,-6.6],[0.262,-4.1],[0.27,-3.0],[0.278,-5.9],[0.287,-3.6],[0.296,-7.4],[0.305,-4.9],[0.315,-3.3],[0.325,-6.3],[0.336,-4.4],[0.35,-5.6],[0.365,-6.8],
[0.04,-8.6],[0.055,-9.7],[0.085,-9.0],[0.12,-8.7],[0.16,-9.4],
[0.028,-2.4],[0.031,-0.9],[0.034,-3.5],[0.037,-1.9],[0.04,-0.1],[0.043,-2.9],[0.046,-4.3],[0.049,-1.0],[0.052,-2.1],[0.055,-3.6],[0.058,-0.5],[0.061,-2.8],[0.064,-1.5],[0.067,-4.0],[0.07,-0.8],[0.073,-2.5],[0.076,-3.4],[0.079,-1.1],[0.082,-2.6],[0.085,-4.5],[0.088,-1.6],[0.091,-3.0],[0.095,-0.4],[0.099,-2.2],[0.103,-3.7],[0.108,-1.4],[0.113,-2.9],[0.118,-4.6],[0.124,-2.0]
];

var seriesPoints = [cycZoop, cycGrazing, cycNPP, cycPhyto, antiPhyto, antiNPP, antiGrazing, antiZoop];

function drawChart() {
	var W = 1146, H = 602;
	var m = {left: 81, right: 13, top: 33, bottom: 42};

	var svg = d3.select("#chart").append("svg")
		.attr("width", W)
		.attr("height", H);

	var x = d3.scaleLinear().domain([0.0256, 0.8]).range([m.left, W - m.right]);
	var y = d3.scaleLinear().domain([-10, 10]).range([H - m.bottom, m.top]);

	svg.append("defs").append("clipPath").attr("id", "plotclip")
		.append("rect")
		.attr("x", m.left).attr("y", m.top)
		.attr("width", W - m.left - m.right).attr("height", H - m.top - m.bottom);

	var plot = svg.append("g").attr("clip-path", "url(#plotclip)");

	seriesPoints.forEach(function(pts, i) {
		var col = seriesColors[i];
		// scatter
		plot.append("g").selectAll("circle")
			.data(pts)
			.enter().append("circle")
			.attr("cx", function(d) { return x(d[0]); })
			.attr("cy", function(d) { return y(d[1]); })
			.attr("r", 2.2)
			.attr("fill", col)
			.attr("fill-opacity", 0.8)
			.attr("stroke", "#fff")
			.attr("stroke-width", 0.4);

		// fitted line value at amplitude a
		var x1 = fitXmax[i];
		var fit = function(a) { return fitStart[i] + (fitEnd[i] - fitStart[i]) * (a - fitXmin) / (x1 - fitXmin); };
		var cx = i < 4 ? ciXcyc : ciXanti;
		var band = cx.map(function(a, k) { return {a: a, h: ciHalf[i][k]}; });

		plot.append("path")
			.datum(band)
			.attr("fill", col)
			.attr("fill-opacity", 0.15)
			.attr("d", d3.area()
				.x(function(d) { return x(d.a); })
				.y0(function(d) { return y(fit(d.a) - d.h); })
				.y1(function(d) { return y(fit(d.a) + d.h); })
				.curve(d3.curveMonotoneX));

		plot.append("line")
			.attr("x1", x(fitXmin)).attr("y1", y(fit(fitXmin)))
			.attr("x2", x(x1)).attr("y2", y(fit(x1)))
			.attr("stroke", col)
			.attr("stroke-width", 2.2);
	});

	// axes
	var xAxis = svg.append("g")
		.attr("transform", "translate(0," + (H - m.bottom) + ")")
		.call(d3.axisBottom(x).tickValues(xTicks).tickFormat(d3.format(".1f")).tickSizeOuter(0).tickSize(3.5));
	var yAxis = svg.append("g")
		.attr("transform", "translate(" + m.left + ",0)")
		.call(d3.axisLeft(y).tickValues(yTicks).tickFormat(d3.format(".1f")).tickSizeOuter(0).tickSize(3.5));
	[xAxis, yAxis].forEach(function(g) {
		g.select(".domain").remove();
		g.selectAll("line").attr("stroke", "#333").attr("stroke-width", 0.8);
		g.selectAll("text").attr("fill", "#333").attr("font-size", 10.5).style("font-family", "DejaVu Sans");
	});

	// frame
	svg.append("rect")
		.attr("x", m.left).attr("y", m.top)
		.attr("width", W - m.left - m.right).attr("height", H - m.top - m.bottom)
		.attr("fill", "none").attr("stroke", "#333").attr("stroke-width", 1);

	// title and labels
	svg.append("text")
		.attr("x", (m.left + W - m.right) / 2).attr("y", 23)
		.attr("text-anchor", "middle")
		.attr("font-size", 15.5).attr("fill", "#222")
		.text("Total Biomass and Grazing Rate Anomaly vs Amplitude for Eddy Center");

	svg.append("text")
		.attr("x", (m.left + W - m.right) / 2).attr("y", 595)
		.attr("text-anchor", "middle")
		.attr("font-size", 16).attr("fill", "#222")
		.text("Amplitude (m)");

	var yl = svg.append("text")
		.attr("transform", "translate(24," + ((m.top + H - m.bottom) / 2) + ") rotate(-90)")
		.attr("text-anchor", "middle")
		.attr("font-size", 16.5).attr("fill", "#222");
	yl.append("tspan").text("Total Biomss and Grazing Rate Anomaly (mg C \u2217 ");
	yl.append("tspan").attr("font-style", "italic").text("m");
	yl.append("tspan").attr("dy", -7).attr("font-size", 11.5).text("\u22123");
	yl.append("tspan").attr("dy", 7).text(" \u2217 ");
	yl.append("tspan").attr("font-style", "italic").text("day");
	yl.append("tspan").attr("dy", -7).attr("font-size", 11.5).text("\u22121");
	yl.append("tspan").attr("dy", 7).text(")");

	// legend
	var lg = svg.append("g").attr("transform", "translate(808,40)");
	lg.append("rect")
		.attr("width", 322).attr("height", 193).attr("rx", 4)
		.attr("fill", "#fff").attr("fill-opacity", 0.8)
		.attr("stroke", "#ccc");
	seriesNames.forEach(function(name, i) {
		var yy = 13 + i * 23.5;
		lg.append("line")
			.attr("x1", 8).attr("x2", 38).attr("y1", yy).attr("y2", yy)
			.attr("stroke", seriesColors[i]).attr("stroke-width", 2.2);
		lg.append("text")
			.attr("x", 48).attr("y", yy + 5)
			.attr("font-size", 14.3).attr("fill", "#222")
			.text(name);
	});
}

drawChart();

</script>
</body>
</html>
